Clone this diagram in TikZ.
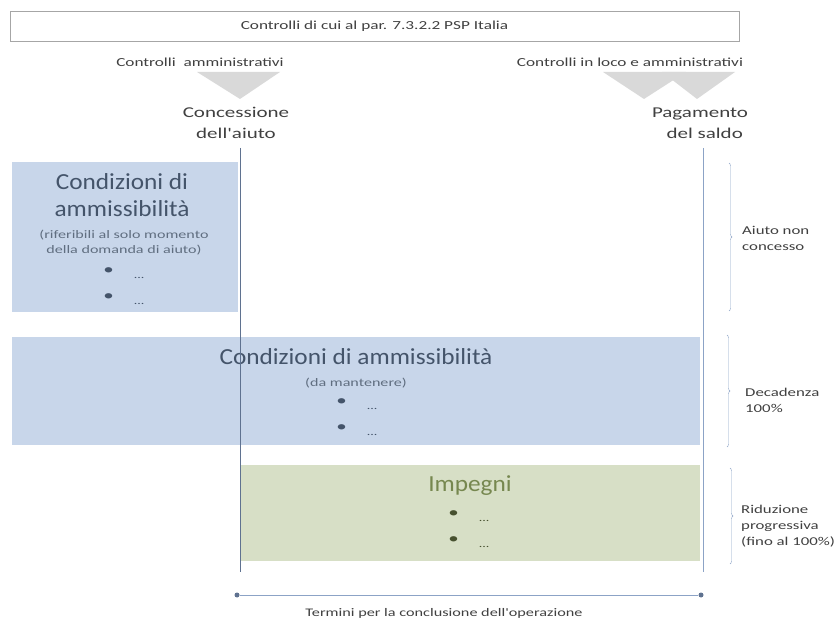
\documentclass[tikz,border=0pt]{standalone}
\usepackage{fontspec}
\setmainfont{Carlito}
\newfontfamily\widefont[FakeStretch=1.4]{Carlito}
\newfontfamily\titlefont[FakeStretch=1.1]{Carlito}
\usetikzlibrary{positioning,decorations.pathreplacing,calc}

\definecolor{boxblue}{HTML}{C8D6EA}
\definecolor{boxgreen}{HTML}{D7DFC6}
\definecolor{titleblue}{HTML}{44546A}
\definecolor{titlegreen}{HTML}{76874F}
\definecolor{lineblue}{HTML}{8CA3C6}
\definecolor{darkline}{HTML}{5F7290}
\definecolor{txtgray}{HTML}{404040}
\definecolor{trigray}{HTML}{D9D9D9}

\newcommand{\voce}{{\fontsize{15}{15}\selectfont\textbullet}\hspace{20pt}\raisebox{-4pt}{...}}

\begin{document}
\begin{tikzpicture}[
  x=1pt, y=-1pt,
  every node/.style={inner sep=0pt},
  small/.style={font=\widefont\fontsize{12.3}{15}\selectfont, text=txtgray},
  mid/.style={font=\widefont\fontsize{15}{21}\selectfont, text=txtgray, align=center},
  big/.style={font=\titlefont\fontsize{23}{27}\selectfont, text=titleblue, align=center},
  note/.style={font=\widefont\fontsize{11.5}{15}\selectfont, text=titleblue!85, align=center},
  lst/.style={font=\widefont\fontsize{10}{26}\selectfont, text=titleblue, align=left},
  brk/.style={draw=lineblue, thin, decorate, decoration={brace, amplitude=3pt}},
  side/.style={font=\widefont\fontsize{12}{16}\selectfont, text=txtgray, align=left, anchor=west},
  tri/.style={fill=trigray, draw=none},
  dot/.style={circle, fill=darkline, minimum size=5pt}
]
\useasboundingbox (0,0) rectangle (839,620);

% --- controlli ---
\node[draw=gray!70, fill=white, minimum width=729pt, minimum height=30pt, small] (ctrl) at (374.5,26) {Controlli di cui al par. 7.3.2.2 PSP Italia};
\node[small] (ammin) at (200,62) {Controlli\ \ amministrativi};
\node[small] (loco) at (630,62) {Controlli in loco e amministrativi};
\fill[tri] (197,72) -- (280,72) -- (240,99) -- cycle;
\fill[tri] (603,72) -- (686,72) -- (644,99) -- cycle;
\fill[tri] (662,72) -- (735,72) -- (697,99) -- cycle;
\node[mid] (conc) at (236,123) {Concessione\\dell'aiuto};
\node[mid] (pag) at (700,123) {Pagamento\\\ \ del saldo};

% --- aree ---
\node[fill=boxblue, minimum width=226pt, minimum height=150pt] (amm1) at (125,237) {};
\node[fill=boxblue, minimum width=688pt, minimum height=108pt] (amm2) at (356,391) {};
\node[fill=boxgreen, minimum width=460pt, minimum height=96pt] (imp) at (470,513) {};

\node[big] (amm1t) at (122,195) {Condizioni di\\ammissibilità};
\node[note] (amm1n) at (124,243) {(riferibili al solo momento\\della domanda di aiuto)};
\node[lst] (amm1l) at (124,286) {\voce\\\voce};

\node[big] (amm2t) at (356,357) {Condizioni di ammissibilità};
\node[note] (amm2n) at (356,383) {(da mantenere)};
\node[lst] (amm2l) at (357,417) {\voce\\\voce};

\node[big, text=titlegreen] (impt) at (470,486) {Impegni};
\node[lst, text=titlegreen!60!black] (impl) at (469,529) {\voce\\\voce};

% --- linee temporali ---
\coordinate (conc top) at (240,148);
\coordinate (conc bot) at (240,572);
\coordinate (pag top) at (703,148);
\coordinate (pag bot) at (703,572);
\draw[darkline, thin] (conc top) -- (conc bot);
\draw[lineblue, thin] (pag top) -- (pag bot);

% --- esiti ---
\coordinate (b1t) at (729,163);
\coordinate (b1b) at (729,311);
\coordinate (b2t) at (727,335);
\coordinate (b2b) at (727,447);
\coordinate (b3t) at (730,468);
\coordinate (b3b) at (730,564);
\draw[brk] (b1t) -- (b1b);
\draw[brk] (b2t) -- (b2b);
\draw[brk] (b3t) -- (b3b);
\node[side] (esito1) at (742,238) {Aiuto non\\concesso};
\node[side] (esito2) at (745,400) {Decadenza\\100\%};
\node[side] (esito3) at (741,526) {Riduzione\\progressiva\\(fino al 100\%)};

% --- termini ---
\node[dot] (t0) at (237,595) {};
\node[dot] (t1) at (701,595) {};
\draw[lineblue, thick] (t0) -- (t1);
\node[small, font=\widefont\fontsize{11.6}{14}\selectfont] (term) at (444,613) {Termini per la conclusione dell'operazione};
\end{tikzpicture}
\end{document}
